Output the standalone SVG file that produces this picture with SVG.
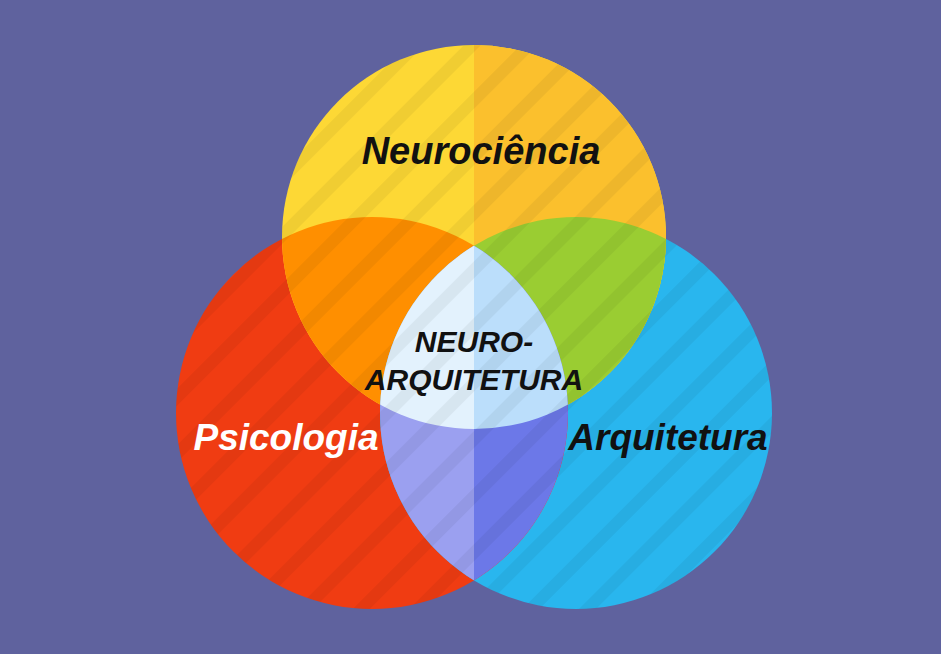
<svg xmlns="http://www.w3.org/2000/svg" width="941" height="654" viewBox="0 0 941 654">
<defs>
<clipPath id="cT"><circle cx="474" cy="237" r="192"/></clipPath>
<clipPath id="cL"><circle cx="372" cy="413" r="196"/></clipPath>
<clipPath id="cAll"><circle cx="474" cy="237" r="192"/><circle cx="372" cy="413" r="196"/><circle cx="576" cy="413" r="196"/></clipPath>
<clipPath id="cRH"><rect x="474" y="0" width="467" height="654"/></clipPath>
<pattern id="st" width="40" height="40" patternUnits="userSpaceOnUse" patternTransform="rotate(-45)">
<rect width="40" height="12" fill="#000" opacity="0.05"/>
</pattern>
</defs>
<style>
text{font-family:"Liberation Sans",Arial,sans-serif;font-weight:bold;font-style:italic;text-anchor:middle}
</style>
<rect width="941" height="654" fill="#5F629E"/>
<g id="psicologia"><circle cx="372" cy="413" r="196" fill="#F03C12"/></g>
<g id="arquitetura"><circle cx="576" cy="413" r="196" fill="#29B6EE"/></g>
<g id="neurociencia"><circle cx="474" cy="237" r="192" fill="#FDD835"/></g>
<g id="overlaps">
<circle cx="372" cy="413" r="196" fill="#FF8F00" clip-path="url(#cT)"/>
<circle cx="576" cy="413" r="196" fill="#9ACD32" clip-path="url(#cT)"/>
<circle cx="576" cy="413" r="196" fill="#9BA0F0" clip-path="url(#cL)"/>
<g clip-path="url(#cL)"><circle cx="576" cy="413" r="196" fill="#E3F2FD" clip-path="url(#cT)"/></g>
</g>
<g id="right-halves" clip-path="url(#cRH)">
<circle cx="372" cy="413" r="196" fill="#E83A00"/>
<circle cx="474" cy="237" r="192" fill="#FBC02D"/>
<circle cx="576" cy="413" r="196" fill="#9ACD32" clip-path="url(#cT)"/>
<circle cx="576" cy="413" r="196" fill="#6C78E8" clip-path="url(#cL)"/>
<g clip-path="url(#cL)"><circle cx="576" cy="413" r="196" fill="#BBDEFB" clip-path="url(#cT)"/></g>
</g>
<g clip-path="url(#cAll)">
<rect width="941" height="654" fill="url(#st)"/>
</g>
<g id="labels">
<text x="481" y="164" font-size="38" fill="#111">Neurociência</text>
<text x="286" y="450" font-size="37" fill="#fff">Psicologia</text>
<text x="668" y="450" font-size="37" fill="#111">Arquitetura</text>
<text x="474" y="352" font-size="30" fill="#111">NEURO-</text>
<text x="474" y="390" font-size="30" fill="#111">ARQUITETURA</text>
</g>
</svg>
